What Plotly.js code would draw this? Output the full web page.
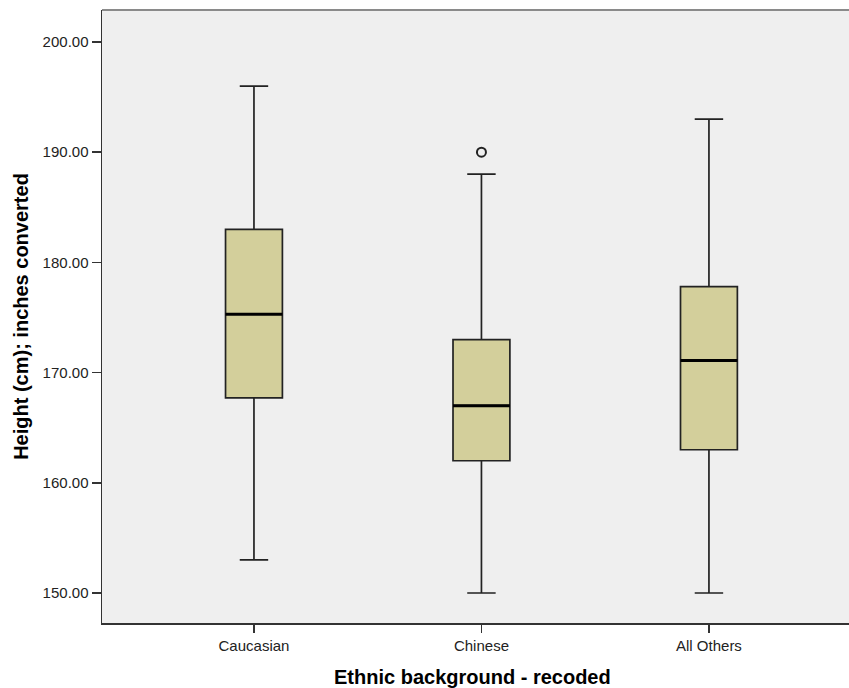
<!DOCTYPE html>
<html>
<head>
<meta charset="utf-8">
<script src="https://cdn.plot.ly/plotly-3.0.1.min.js"></script>
<style>html,body{margin:0;padding:0;background:#fff;overflow:hidden;}#chart{width:870px;height:688px;}</style>
</head>
<body>
<div id="chart"></div>
<script>
var categories = ['Caucasian', 'Chinese', 'All Others'];
var lowerWhisker = [153, 150, 150];
var q1 = [167.7, 162, 163];
var median = [175.3, 167, 171.1];
var q3 = [183, 173, 177.8];
var upperWhisker = [196, 188, 193];
var outlierX = ['Chinese'];
var outlierY = [190];
var yTicks = [150, 160, 170, 180, 190, 200];

var font = 'Arial, "Liberation Sans", sans-serif';

var boxes = {
  type: 'box',
  x: categories,
  q1: q1, median: median, q3: q3,
  lowerfence: lowerWhisker, upperfence: upperWhisker,
  width: 0.25,
  whiskerwidth: 0.5,
  fillcolor: '#d3cf9b',
  line: {color: '#222222', width: 1.7},
  boxpoints: false,
  hoverinfo: 'skip',
  showlegend: false
};
var medians = {
  type: 'box',
  x: categories,
  q1: median, median: median, q3: median,
  lowerfence: median, upperfence: median,
  width: 0.25,
  whiskerwidth: 0,
  fillcolor: 'rgba(0,0,0,0)',
  line: {color: '#000000', width: 3},
  boxpoints: false,
  hoverinfo: 'skip',
  showlegend: false
};
var outliers = {
  type: 'scatter',
  mode: 'markers',
  x: outlierX,
  y: outlierY,
  marker: {symbol: 'circle-open', size: 9, color: '#222222', line: {width: 2}},
  hoverinfo: 'skip',
  showlegend: false
};

var layout = {
  width: 870, height: 688,
  margin: {l: 102, r: 0, t: 10, b: 65},
  paper_bgcolor: '#ffffff',
  plot_bgcolor: '#efefef',
  boxmode: 'overlay',
  showlegend: false,
  font: {family: font, color: '#222222'},
  shapes: [{
    type: 'line', xref: 'paper', yref: 'paper', x0: 0, x1: 1, y0: 1, y1: 1,
    line: {color: '#8a8a8a', width: 2}
  }],
  annotations: [{
    text: 'Ethnic background - recoded',
    xref: 'paper', yref: 'paper', x: 0.4818, y: -0.0881,
    xanchor: 'center', yanchor: 'middle', showarrow: false,
    font: {family: font, size: 20, color: '#000000', weight: 'bold'}
  }],
  xaxis: {
    type: 'category',
    range: [-0.668, 2.708],
    showgrid: false, zeroline: false,
    showline: true, linecolor: '#333333', linewidth: 1.5,
    ticks: 'outside', ticklen: 8, tickcolor: '#333333', tickwidth: 1.5,
    tickfont: {family: font, size: 15, color: '#222222'}
  },
  yaxis: {
    range: [147.28, 202.9],
    tickvals: yTicks,
    tickformat: '.2f',
    showgrid: false, zeroline: false,
    showline: true, linecolor: '#333333', linewidth: 1.5,
    ticks: 'outside', ticklen: 9, tickcolor: '#333333', tickwidth: 1.5,
    tickfont: {family: font, size: 15, color: '#222222'},
    title: {text: 'Height (cm); inches converted', font: {family: font, size: 20, color: '#000000', weight: 'bold'}, standoff: 8}
  }
};

Plotly.newPlot('chart', [boxes, medians, outliers], layout, {displayModeBar: false, staticPlot: true});
</script>
</body>
</html>
